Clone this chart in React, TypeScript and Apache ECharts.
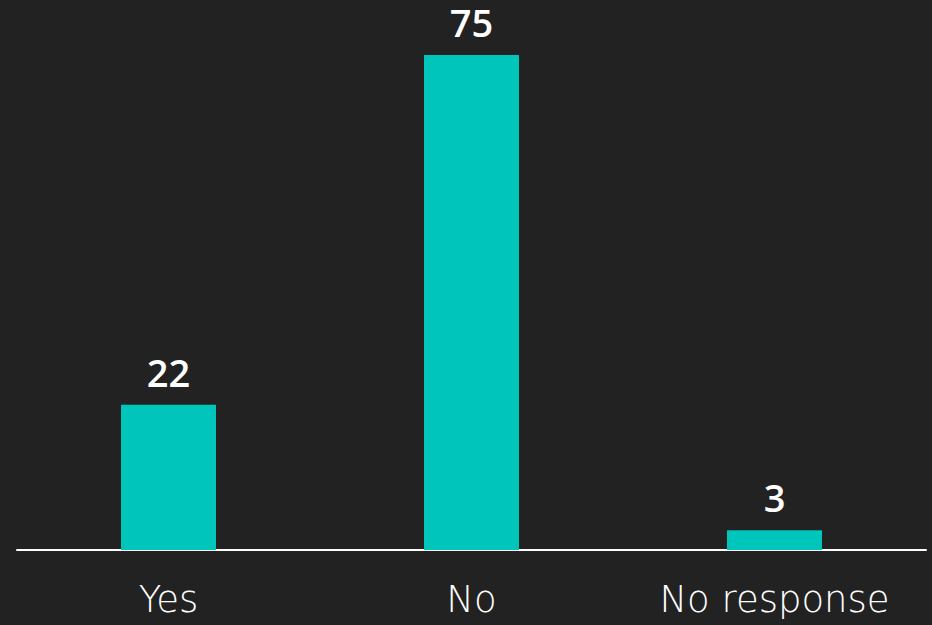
import React, { useEffect, useRef } from "react";
import * as echarts from "echarts";

const categories = ["Yes", "No", "No response"];
const values = [22, 75, 3];

export default function App() {
  const ref = useRef<HTMLDivElement>(null);
  useEffect(() => {
    if (!ref.current) return;
    const chart = echarts.init(ref.current, null, { renderer: "svg" });
    chart.setOption({
      animation: false,
      backgroundColor: "#222222",
      grid: { left: 17, right: 6, top: 55, bottom: 75, containLabel: false },
      xAxis: {
        type: "category",
        data: categories,
        axisLine: { show: true, lineStyle: { color: "#ffffff", width: 2 } },
        axisTick: { show: false },
        axisLabel: {
          color: "#ffffff",
          fontSize: 37,
          fontFamily: "'DejaVu Sans', sans-serif",
          fontWeight: 300,
          margin: 31,
        },
      },
      yAxis: {
        type: "value",
        min: 0,
        max: 75,
        show: false,
        splitLine: { show: false },
      },
      series: [
        {
          type: "bar",
          data: values,
          barWidth: 95,
          itemStyle: { color: "#00C5BA" },
          label: {
            show: true,
            position: "top",
            distance: 18,
            color: "#ffffff",
            fontSize: 38,
            lineHeight: 30,
            fontWeight: 600,
            fontFamily: "'Open Sans', sans-serif",
          },
        },
      ],
    });
    return () => chart.dispose();
  }, []);
  return <div ref={ref} style={{ width: 932, height: 625, position: "fixed", left: 0, top: 0 }} />;
}
